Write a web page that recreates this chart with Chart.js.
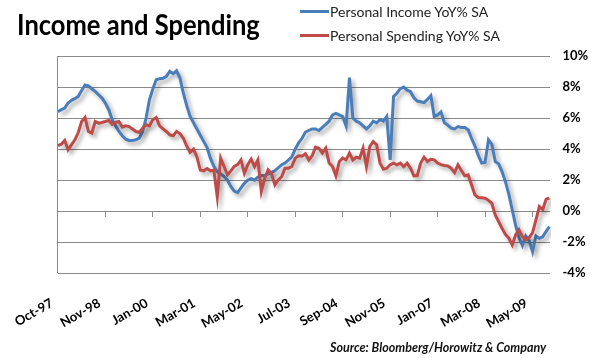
<!DOCTYPE html>
<html>
<head>
<meta charset="utf-8">
<script src="https://cdn.jsdelivr.net/npm/chart.js@4/dist/chart.umd.min.js"></script>
<style>
  html, body { margin: 0; padding: 0; background: #fff; }
  #wrap { position: relative; width: 594px; height: 358px; font-family: Lato, "Open Sans", sans-serif; }
  #title { position: absolute; left: 17px; top: 9px; font-size: 29px; line-height: 29px; font-weight: bold; color: #000;
           transform: scaleX(0.88); transform-origin: left top; white-space: nowrap; }
  #legend { position: absolute; left: 300px; top: 2px; }
  #legend .row { display: flex; align-items: center; height: 18px; margin-bottom: 6px; font-size: 14px; color: #222; white-space: nowrap; }
  #legend .swatch { width: 29px; height: 3px; margin-right: 1px; }
  #source { position: absolute; left: 330px; top: 340px; font-size: 12.5px; font-style: italic; font-weight: bold; color: #111; white-space: nowrap; }
</style>
</head>
<body>
<div id="wrap">
  <canvas id="chart" width="594" height="358"></canvas>
  <div id="title">Income and Spending</div>
  <div id="legend"></div>
  <div id="source">Source: Bloomberg/Horowitz &amp; Company</div>
</div>
<script>
'use strict'

// year-over-year %, monthly, seasonally adjusted
const income = [
  6.41, 6.54, 6.64, 6.97, 7.14, 7.25, 7.40, 7.78, 8.13, 8.08,
  7.89, 7.72, 7.50, 7.29, 6.97, 6.54, 5.89, 5.50, 5.14, 4.86,
  4.64, 4.56, 4.56, 4.60, 4.71, 5.14, 6.00, 7.18, 7.87, 8.47,
  8.54, 8.56, 8.69, 9.01, 8.86, 9.05, 8.58, 7.60, 6.80, 6.10,
  5.70, 5.30, 4.90, 4.50, 4.10, 3.40, 2.90, 2.55, 2.40, 2.25,
  2.00, 1.60, 1.30, 1.20, 1.50, 1.80, 2.00, 2.10, 2.00, 2.20,
  2.30, 2.30, 2.40, 2.50, 2.60, 2.80, 3.00, 3.10, 3.30, 3.50,
  4.00, 4.40, 4.70, 5.10, 5.20, 5.30, 5.30, 5.20, 5.40, 5.60,
  5.80, 6.20, 6.30, 6.20, 6.10, 5.50, 8.60, 6.00, 5.80, 5.70,
  5.50, 5.30, 5.50, 5.80, 5.70, 5.90, 5.80, 6.10, 3.30, 7.40,
  7.60, 7.90, 8.00, 7.80, 7.70, 7.30, 7.10, 7.05, 7.00, 7.20,
  7.45, 6.10, 6.20, 6.40, 5.70, 5.55, 5.35, 5.30, 5.45, 5.40,
  5.40, 5.25, 4.70, 4.20, 3.60, 3.10, 3.15, 4.60, 4.30, 3.20,
  3.05, 2.55, 1.90, 1.10, 0.10, -0.90, -1.70, -2.20, -1.60, -1.90,
  -2.60, -1.60, -1.75, -1.65, -1.30, -1.00
];

const spending = [
  4.23, 4.32, 4.56, 3.96, 4.28, 4.60, 5.07, 5.78, 6.04, 5.14,
  5.03, 5.78, 5.67, 5.72, 5.78, 5.85, 5.60, 5.72, 5.78, 5.42,
  5.50, 5.45, 5.29, 5.14, 5.07, 5.35, 5.57, 5.50, 5.89, 6.04,
  5.50, 5.30, 5.14, 4.92, 4.86, 5.14, 5.00, 4.70, 4.20, 3.80,
  4.00, 3.50, 2.65, 2.60, 2.75, 2.60, 2.65, 0.94, 3.42, 2.88,
  2.34, 2.60, 2.88, 3.00, 3.30, 2.45, 3.00, 3.35, 2.88, 3.31,
  1.27, 2.13, 2.67, 2.41, 1.70, 2.02, 2.23, 2.77, 2.77, 2.88,
  3.42, 3.57, 3.55, 3.70, 3.30, 3.57, 4.13, 4.06, 3.74, 4.06,
  3.10, 2.88, 2.28, 3.20, 3.42, 3.31, 3.74, 3.31, 3.48, 3.42,
  4.06, 2.88, 4.17, 4.49, 4.28, 3.10, 2.70, 2.77, 2.99, 3.10,
  2.99, 3.10, 2.88, 3.10, 2.77, 2.28, 2.30, 3.10, 3.48, 3.20,
  3.35, 3.31, 3.10, 3.00, 2.95, 2.92, 2.77, 2.49, 2.99, 2.62,
  2.28, 2.34, 1.70, 1.05, 0.88, 0.86, 0.84, 0.70, 0.51, -0.24,
  -0.67, -1.10, -1.50, -1.74, -2.17, -1.53, -1.20, -1.64, -1.85, -1.70,
  -1.38, -0.56, 0.30, 0.10, 0.77, 0.84
];

// labels shown under the axis, one every 14 points
const tickLabels = ['Oct-97', 'Nov-98', 'Jan-00', 'Mar-01', 'May-02', 'Jul-03',
                    'Sep-04', 'Nov-05', 'Jan-07', 'Mar-08', 'May-09'];
const tickStep = 14;

const monthNames = ['Jan','Feb','Mar','Apr','May','Jun','Jul','Aug','Sep','Oct','Nov','Dec'];
const categories = income.map((v, i) => {
  const m = 9 + i;
  const yr = (97 + Math.floor(m / 12)) % 100;
  return monthNames[m % 12] + '-' + String(yr).padStart(2, '0');
});

const gridGray = '#8a8a8a';

// soft drop shadow under each line, like the Excel original
const lineShadow = {
  id: 'lineShadow',
  beforeDatasetDraw(chart) {
    const ctx = chart.ctx;
    ctx.save();
    ctx.shadowColor = 'rgba(0,0,0,0.35)';
    ctx.shadowBlur = 4;
    ctx.shadowOffsetX = 3;
    ctx.shadowOffsetY = 3;
  },
  afterDatasetDraw(chart) {
    chart.ctx.restore();
  }
};

const chart = new Chart(document.getElementById('chart'), {
  type: 'line',
  data: {
    labels: categories,
    datasets: [
      {
        label: 'Personal Income YoY% SA',
        data: income,
        borderColor: '#4a7ebb',
        borderWidth: 3,
        pointRadius: 0,
        tension: 0,
        fill: false,
        order: 1
      },
      {
        label: 'Personal Spending YoY% SA',
        data: spending,
        borderColor: '#be4b48',
        borderWidth: 3,
        pointRadius: 0,
        tension: 0,
        fill: false,
        order: 0
      }
    ]
  },
  options: {
    responsive: false,
    animation: false,
    events: [],
    layout: { padding: { left: 42, top: 56, right: 0, bottom: 0 } },
    plugins: {
      legend: { display: false },
      tooltip: { enabled: false }
    },
    scales: {
      x: {
        type: 'category',
        position: 'bottom',
        afterFit: (s) => { s.height = 84.7; },
        border: { display: false },
        grid: {
          drawTicks: false,
          color: (c) => c.index === 0 ? gridGray : 'rgba(0,0,0,0)'
        },
        ticks: {
          autoSkip: false,
          minRotation: 30,
          maxRotation: 30,
          padding: 22,
          labelOffset: -6,
          color: '#000',
          font: { family: 'Lato', size: 13, weight: 'bold' },
          callback: (v, i) => i % tickStep === 0 ? tickLabels[i / tickStep] : null
        }
      },
      x2: {
        type: 'category',
        position: { y: 0 },
        border: { display: true, color: gridGray },
        grid: {
          drawOnChartArea: false,
          drawTicks: true,
          tickLength: 5,
          color: (c) => (c.index > 0 && c.index % tickStep === 0) ? gridGray : 'rgba(0,0,0,0)'
        },
        ticks: { display: false }
      },
      y: {
        position: 'right',
        min: -4,
        max: 10,
        afterFit: (s) => { s.width = 44.5; },
        border: { display: false },
        grid: { color: gridGray, drawTicks: false },
        ticks: {
          stepSize: 2,
          padding: 13,
          color: '#000',
          font: { family: 'Lato', size: 13, weight: 'bold' },
          callback: (v) => v + '%'
        }
      }
    }
  },
  plugins: [lineShadow]
});

// html legend built from the datasets
const legendEl = document.getElementById('legend');
chart.data.datasets.forEach((ds) => {
  const row = document.createElement('div');
  row.className = 'row';
  const sw = document.createElement('span');
  sw.className = 'swatch';
  sw.style.background = ds.borderColor;
  const txt = document.createElement('span');
  txt.textContent = ds.label;
  row.appendChild(sw);
  row.appendChild(txt);
  legendEl.appendChild(row);
});
</script>
</body>
</html>
